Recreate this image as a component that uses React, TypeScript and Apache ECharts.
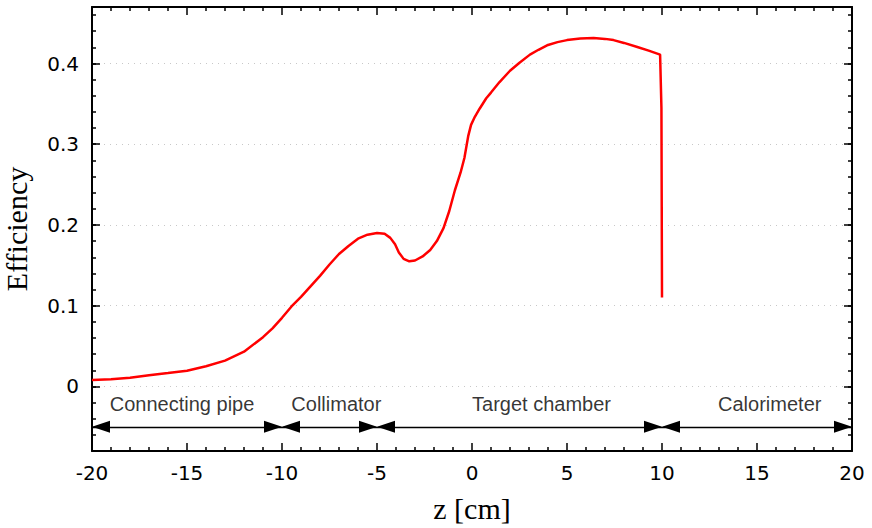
import React, { useEffect, useRef } from "react";
import * as echarts from "echarts";

// Efficiency curve
const zValues = [
  -20, -19, -18, -17, -16, -15, -14, -13, -12, -11, -10.5, -10, -9.5, -9, -8.5,
  -8, -7.5, -7, -6.5, -6, -5.5, -5, -4.6, -4.3, -4.05, -3.85, -3.6, -3.3, -3.0,
  -2.6, -2.2, -1.85, -1.5, -1.2, -0.9, -0.6, -0.4, -0.2, -0.05, 0.15, 0.4, 0.75,
  1.0, 1.45, 2.0, 2.5, 3.05, 3.5, 4.0, 4.5, 5.0, 5.7, 6.4, 7.0, 7.45, 8.0, 8.7,
  9.3, 9.9, 9.97, 10.0,
];
const efficiency = [
  0.008, 0.009, 0.0108, 0.0138, 0.0165, 0.0195, 0.025, 0.032, 0.043, 0.061,
  0.072, 0.085, 0.099, 0.111, 0.124, 0.137, 0.151, 0.164, 0.174, 0.183, 0.188,
  0.19, 0.189, 0.184, 0.176, 0.166, 0.158, 0.155, 0.156, 0.161, 0.169, 0.18,
  0.196, 0.217, 0.243, 0.265, 0.283, 0.31, 0.324, 0.334, 0.344, 0.357, 0.364,
  0.377, 0.391, 0.401, 0.411, 0.417, 0.423, 0.4265, 0.429, 0.431, 0.4316,
  0.4305, 0.429, 0.4255, 0.4205, 0.416, 0.411, 0.345, 0.11,
];

// Detector regions
const regionNames = ["Connecting pipe", "Collimator", "Target chamber", "Calorimeter"];
const regionStart = [-20, -10, -5, 10];
const regionEnd = [-10, -5, 10, 20];
const labelX = [-15.26, -7.14, 3.66, 15.67];
const labelY = -0.0215;
const arrowY = -0.05;

const xMin = -20;
const xMax = 20;
const xStep = 5;
const yMin = -0.08;
const yMax = 0.47;
const yMinorStep = 0.02;

export default function App() {
  const ref = useRef<HTMLDivElement>(null);

  useEffect(() => {
    document.body.style.margin = "0";
    const chart = echarts.init(ref.current!, null, { renderer: "svg" });

    const tickFont = { fontFamily: "DejaVu Sans", fontSize: 20, color: "#000" };
    const frame = { show: true, onZero: false, lineStyle: { color: "#000", width: 2 } };
    const tickStyle = { color: "#000", width: 1.5 };

    const xBase: any = {
      type: "value",
      min: xMin,
      max: xMax,
      interval: xStep,
      axisLine: frame,
      axisTick: { show: true, inside: true, length: 8, lineStyle: tickStyle },
      minorTick: { show: true, splitNumber: 5, length: 4, lineStyle: tickStyle },
      splitLine: { show: false },
    };

    const yMajor = (position: string, labels: boolean): any => ({
      type: "value",
      position,
      min: yMin,
      max: yMax,
      splitNumber: 5,
      axisLine: frame,
      axisTick: { show: true, inside: true, length: 8, lineStyle: tickStyle },
      axisLabel: {
        show: labels,
        ...tickFont,
        margin: 13,
        formatter: (v: number) => {
          const r = Math.round(v * 10);
          return Math.abs(v * 10 - r) < 1e-6 ? String(r / 10) : "";
        },
      },
      splitLine: labels
        ? { show: true, lineStyle: { color: "#c8c8c8", width: 1, type: [1, 5] } }
        : { show: false },
      ...(labels
        ? {
            name: "Efficiency",
            nameLocation: "middle",
            nameGap: 61,
            nameTextStyle: { fontFamily: "Liberation Serif", fontSize: 30, color: "#000" },
          }
        : {}),
    });

    const yMinor = (position: string): any => ({
      type: "value",
      position,
      min: yMin,
      max: yMax,
      interval: yMinorStep,
      axisLine: { show: false, onZero: false },
      axisTick: { show: true, inside: true, length: 4, lineStyle: tickStyle },
      axisLabel: { show: false },
      splitLine: { show: false },
    });

    chart.setOption({
      animation: false,
      backgroundColor: "#fff",
      grid: {
        left: 92,
        right: 20,
        top: 7,
        bottom: 77,
        containLabel: false,
        outerBoundsMode: "none",
      },
      xAxis: [
        {
          ...xBase,
          position: "bottom",
          axisLabel: { ...tickFont, margin: 12 },
          name: "z [cm]",
          nameLocation: "middle",
          nameGap: 42,
          nameTextStyle: { fontFamily: "Liberation Serif", fontSize: 30, color: "#000" },
        },
        { ...xBase, position: "top", axisLabel: { show: false } },
      ],
      yAxis: [yMajor("left", true), yMinor("left"), yMajor("right", false), yMinor("right")],
      series: [
        {
          type: "line",
          xAxisIndex: 0,
          yAxisIndex: 0,
          data: zValues.map((z, i) => [z, efficiency[i]]),
          showSymbol: false,
          symbol: "none",
          lineStyle: { color: "#ff0000", width: 2.5 },
          z: 5,
        },
        {
          type: "line",
          xAxisIndex: 0,
          yAxisIndex: 0,
          data: [],
          markLine: {
            silent: true,
            symbol: ["triangle", "triangle"],
            symbolSize: [12, 18],
            symbolOffset: [
              [0, 9],
              [0, 9],
            ],
            label: { show: false },
            lineStyle: { color: "#000", width: 1.3, type: "solid" },
            emphasis: { disabled: true },
            data: regionStart.map((s, i) => [
              { coord: [s, arrowY] },
              { coord: [regionEnd[i], arrowY] },
            ]),
          },
        },
        {
          type: "scatter",
          xAxisIndex: 0,
          yAxisIndex: 0,
          symbol: "circle",
          symbolSize: 1,
          itemStyle: { color: "rgba(0,0,0,0)" },
          silent: true,
          data: labelX.map((x, i) => ({ value: [x, labelY], name: regionNames[i] })),
          label: {
            show: true,
            position: "inside",
            formatter: "{b}",
            fontFamily: "Liberation Sans",
            fontSize: 20,
            color: "#000",
          },
        },
      ],
    });

    return () => chart.dispose();
  }, []);

  return <div ref={ref} style={{ width: 872, height: 528 }} />;
}
